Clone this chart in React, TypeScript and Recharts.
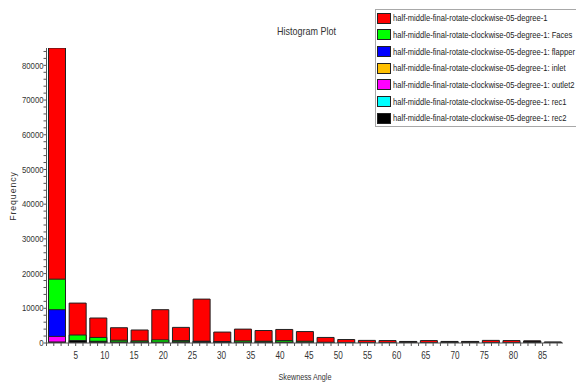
import React from 'react';
import { BarChart, Bar, XAxis, YAxis, CartesianGrid } from 'recharts';

// bin centres (skewness angle, degrees)
const binCenters = [1.77, 5.31, 8.85, 12.39, 15.93, 19.47, 23.01, 26.55, 30.09, 33.63, 37.17, 40.71, 44.25, 47.79, 51.33, 54.87, 58.41, 61.95, 65.49, 69.03, 72.57, 76.11, 79.65, 83.19, 86.73];

const allFaces = [85000, 11500, 7200, 4400, 3750, 9600, 4500, 12650, 3150, 4000, 3600, 3900, 3300, 1600, 1000, 750, 700, 450, 700, 450, 450, 750, 700, 600, 250];
const facesZone = [18400, 2300, 1600, 800, 600, 900, 700, 500, 300, 600, 500, 700, 500, 150, 100, 80, 60, 50, 60, 40, 40, 60, 50, 40, 20];
const flapperZone = [9600, 0, 0, 0, 0, 0, 0, 0, 0, 0, 0, 0, 0, 0, 0, 0, 0, 0, 0, 0, 0, 0, 0, 0, 0];
const inletZone = [0, 0, 0, 0, 0, 0, 0, 0, 0, 0, 0, 0, 0, 0, 0, 0, 0, 0, 0, 0, 0, 0, 0, 0, 0];
const outlet2Zone = [1900, 0, 0, 0, 0, 0, 0, 0, 0, 0, 0, 0, 0, 0, 0, 0, 0, 0, 0, 0, 0, 0, 0, 0, 0];
const rec1Zone = [0, 0, 0, 0, 0, 0, 0, 0, 0, 0, 0, 0, 0, 0, 0, 0, 0, 0, 0, 0, 0, 0, 0, 0, 0];
const rec2Zone = [300, 700, 500, 300, 300, 250, 350, 450, 400, 250, 300, 250, 200, 200, 150, 150, 100, 400, 100, 400, 400, 100, 100, 550, 250];

const seriesKeys = ['all', 'faces', 'flapper', 'inlet', 'outlet2', 'rec1', 'rec2'];
const seriesNames = [
  'half-middle-final-rotate-clockwise-05-degree-1',
  'half-middle-final-rotate-clockwise-05-degree-1: Faces',
  'half-middle-final-rotate-clockwise-05-degree-1: flapper',
  'half-middle-final-rotate-clockwise-05-degree-1: inlet',
  'half-middle-final-rotate-clockwise-05-degree-1: outlet2',
  'half-middle-final-rotate-clockwise-05-degree-1: rec1',
  'half-middle-final-rotate-clockwise-05-degree-1: rec2',
];
const seriesColors = ['#ff0000', '#00ff00', '#0000ff', '#ffc000', '#ff00ff', '#00ffff', '#000000'];
const seriesValues = [allFaces, facesZone, flapperZone, inletZone, outlet2Zone, rec1Zone, rec2Zone];

const xMajorTicks = [0, 5, 10, 15, 20, 25, 30, 35, 40, 45, 50, 55, 60, 65, 70, 75, 80, 85];
const yMajorTicks = [0, 10000, 20000, 30000, 40000, 50000, 60000, 70000, 80000];
const X_MINOR_STEP = 1.25;
const Y_MINOR_STEP = 2000;
const X_MAX = 88.5;
const Y_MAX = 85000;

const xAllTicks: number[] = [];
for (let v = 0; v <= X_MAX + 1e-9; v += X_MINOR_STEP) xAllTicks.push(Math.round(v * 100) / 100);
const yAllTicks: number[] = [];
for (let v = 0; v <= Y_MAX; v += Y_MINOR_STEP) yAllTicks.push(v);
const xMinorTicks = xAllTicks.filter((v) => !xMajorTicks.includes(v));
const yMinorTicks = yAllTicks.filter((v) => !yMajorTicks.includes(v));

const data = binCenters.map((x, i) => {
  const row: Record<string, number> = { x };
  seriesKeys.forEach((k, j) => {
    row[k] = seriesValues[j][i];
  });
  return row;
});

const FONT = "'Liberation Sans', Arial, sans-serif";
const TEXT = '#333';

const XTick = (props: any) => {
  const { x, y, payload } = props;
  const v = payload.value;
  const major = xMajorTicks.includes(v);
  return (
    <g>
      <line x1={x} x2={x} y1={y} y2={y + 3} stroke="#555" strokeWidth={1} />
      {major && v > 0 && (
        <text
          transform={`translate(${x},${y + 16}) scale(0.82,1)`}
          textAnchor="middle"
          fontSize={10}
          fontFamily={FONT}
          fill={TEXT}
        >
          {v}
        </text>
      )}
    </g>
  );
};

const YTick = (props: any) => {
  const { x, y, payload } = props;
  const v = payload.value;
  const major = yMajorTicks.includes(v);
  return (
    <g>
      <line x1={x - 3} x2={x} y1={y} y2={y} stroke="#555" strokeWidth={1} />
      {major && (
        <text
          transform={`translate(${x - 3},${y + 3.2}) scale(0.88,1)`}
          textAnchor="end"
          fontSize={8.8}
          fontFamily={FONT}
          fill={TEXT}
        >
          {v}
        </text>
      )}
    </g>
  );
};

const scaleOf = (axis: any) => (axis && typeof axis.scale === 'function' ? axis.scale : null);

export default function App() {
  return (
    <div style={{ position: 'absolute', left: 0, top: 0, width: 576, height: 383, overflow: 'hidden', background: '#fff' }}>
      <BarChart
        width={576}
        height={383}
        data={data}
        margin={{ top: 48, right: 13, left: 0, bottom: 0 }}
        barSize={17}
        barGap={-17}
      >
        <CartesianGrid
          stroke="#efefef"
          strokeWidth={1}
          horizontalCoordinatesGenerator={({ yAxis }: any) => {
            const s = scaleOf(yAxis);
            return s ? yMinorTicks.map((v) => s(v)) : [];
          }}
          verticalCoordinatesGenerator={({ xAxis }: any) => {
            const s = scaleOf(xAxis);
            return s ? xMinorTicks.map((v) => s(v)) : [];
          }}
        />
        <CartesianGrid
          stroke="#d9d9d9"
          strokeWidth={1}
          horizontalCoordinatesGenerator={({ yAxis }: any) => {
            const s = scaleOf(yAxis);
            return s ? yMajorTicks.filter((v) => v > 0).map((v) => s(v)) : [];
          }}
          verticalCoordinatesGenerator={({ xAxis }: any) => {
            const s = scaleOf(xAxis);
            return s ? xMajorTicks.filter((v) => v > 0).map((v) => s(v)) : [];
          }}
        />
        <XAxis
          dataKey="x"
          type="number"
          domain={[0, X_MAX]}
          allowDataOverflow
          ticks={xAllTicks}
          interval={0}
          tickSize={0}
          tickMargin={0}
          tickLine={false}
          tick={<XTick />}
          height={40}
          axisLine={{ stroke: '#555' }}
        />
        <YAxis
          type="number"
          domain={[0, Y_MAX]}
          allowDataOverflow
          ticks={yAllTicks}
          interval={0}
          tickSize={0}
          tickMargin={0}
          tickLine={false}
          tick={<YTick />}
          width={46.5}
          axisLine={{ stroke: '#555' }}
        />
        {seriesKeys.map((k, i) => (
          <Bar
            key={k}
            dataKey={k}
            name={seriesNames[i]}
            fill={seriesColors[i]}
            stroke="#222"
            strokeWidth={1}
            isAnimationActive={false}
          />
        ))}
      </BarChart>

      <div
        style={{
          position: 'absolute',
          left: 200,
          width: 213,
          top: 24,
          textAlign: 'center',
          fontFamily: FONT,
          fontSize: 11,
          color: TEXT,
          lineHeight: '14px',
          transform: 'scaleX(0.82)',
        }}
      >
        Histogram Plot
      </div>
      <div
        style={{
          position: 'absolute',
          left: 200,
          width: 210,
          top: 371,
          textAlign: 'center',
          fontFamily: FONT,
          fontSize: 8.6,
          color: TEXT,
          lineHeight: '12px',
          transform: 'scaleX(0.84)',
        }}
      >
        Skewness Angle
      </div>
      <div
        style={{
          position: 'absolute',
          left: 13,
          top: 196,
          transform: 'translate(-50%, -50%) rotate(-90deg)',
          fontFamily: FONT,
          fontSize: 8.8,
          letterSpacing: 0.9,
          color: TEXT,
          whiteSpace: 'nowrap',
          lineHeight: '10px',
        }}
      >
        Frequency
      </div>

      <div style={{ position: 'absolute', left: 375, top: 9, width: 230, height: 118, border: '1px solid #a8a8a8', background: '#fff', boxSizing: 'border-box' }}>
        {seriesNames.map((n, i) => (
          <div key={n} style={{ position: 'absolute', left: 1, top: 2.7 + i * 16.67, height: 12, width: 226 }}>
            <div style={{ position: 'absolute', left: 0, top: 0, width: 14, height: 11, boxSizing: 'border-box', border: '1px solid #222', background: seriesColors[i] }} />
            <div
              style={{
                position: 'absolute',
                left: 16,
                top: -0.5,
                fontFamily: FONT,
                fontSize: 9.4,
                lineHeight: '12px',
                color: '#222',
                whiteSpace: 'nowrap',
                transform: 'scaleX(0.81)',
                transformOrigin: '0 50%',
              }}
            >
              {n}
            </div>
          </div>
        ))}
      </div>
    </div>
  );
}
